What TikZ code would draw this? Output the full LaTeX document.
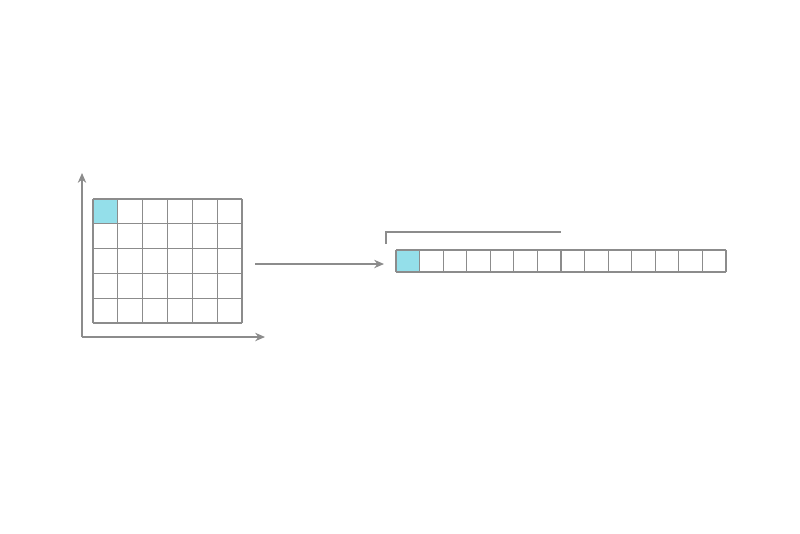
\documentclass[tikz,border=0pt]{standalone}
\usetikzlibrary{arrows.meta}
\definecolor{linegray}{HTML}{8C8C8C}
\definecolor{cellcyan}{HTML}{94DFEA}
\begin{document}
\begin{tikzpicture}[x=0.025cm,y=-0.025cm,line width=0.9pt,
	gridline/.style={draw=linegray},
	axisarrow/.style={draw=linegray,-{Stealth[length=7pt,width=6pt]}}]
	\useasboundingbox (0,0) rectangle (800,533);
	% matrix on axes
	\fill[cellcyan] (93,199) rectangle (117.8,223.8);
	\foreach \i in {0,...,6}
		\draw[gridline] (93+\i*24.83,199)--(93+\i*24.83,323);
	\foreach \j in {0,...,5}
		\draw[gridline] (93,199+\j*24.8)--(242,199+\j*24.8);
	\coordinate (origin) at (82,337);
	\coordinate (yend) at (82,173);
	\coordinate (xend) at (265,337);
	\draw[axisarrow] (origin)--(yend);
	\draw[axisarrow] (origin)--(xend);
	% flattening arrow
	\coordinate (from) at (255,264);
	\coordinate (to) at (384,264);
	\draw[axisarrow] (from)--(to);
	% flat row
	\fill[cellcyan] (396,250) rectangle (419.6,272);
	\foreach \i in {0,...,14}
		\draw[gridline] (396+\i*23.57,250)--(396+\i*23.57,272);
	\draw[gridline] (396,250)--(726,250);
	\draw[gridline] (396,272)--(726,272);
	% bracket
	\coordinate (brA) at (386,244);
	\coordinate (brB) at (561,232);
	\draw[gridline] (brA)|-(brB);
\end{tikzpicture}
\end{document}
